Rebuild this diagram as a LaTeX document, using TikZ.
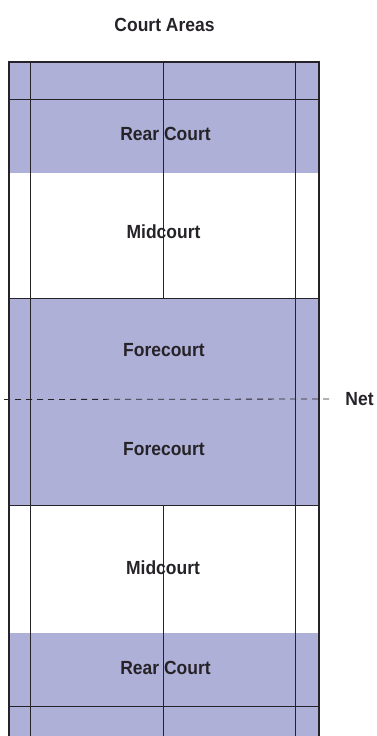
\documentclass[tikz,border=0pt]{standalone}
\usepackage{fontspec}
\usepackage{graphicx}
\setmainfont{Liberation Sans}
\newcommand{\narrowtxt}[1]{\scalebox{0.92}[1]{#1}}
\definecolor{courtfill}{RGB}{174,176,215}
\definecolor{courtline}{RGB}{38,35,40}
\tikzset{
  zone/.style={fill=courtfill,draw=none},
  thick line/.style={draw=courtline,line width=1.1pt},
  court line/.style={draw=courtline,line width=0.85pt},
  net line/.style={draw=courtline,line width=0.8pt,dash pattern=on 6pt off 5pt},
  lab/.style={font=\bfseries\fontsize{19}{21}\selectfont,text=courtline,inner sep=0pt,anchor=center}
}
\begin{document}
\begin{tikzpicture}[x=1pt,y=-1pt]
\useasboundingbox (0,0) rectangle (376,736);
% shaded zones
\fill[zone] (9,62) rectangle (319,172.5);
\fill[zone] (9,298.5) rectangle (319,505);
\fill[zone] (9,633) rectangle (319,736);
% court outline and lines
\draw[thick line] (9,736) -- (9,62) -- (319,62) -- (319,736);
\draw[court line] (30,62) -- (30,736);
\draw[court line] (295,62) -- (295,736);
\draw[court line] (163.5,62) -- (163.5,298.5);
\draw[court line] (163.5,505) -- (163.5,736);
\draw[court line] (9,99) -- (319,99);
\draw[court line] (9,298.5) -- (319,298.5);
\draw[court line] (9,505) -- (319,505);
\draw[court line] (9,706) -- (319,706);
% labels
\node[lab] (title) at (164.5,25) {\narrowtxt{Court Areas}};
\node[lab] (rear1) at (165.5,134) {\narrowtxt{Rear Court}};
\node[lab] (mid1) at (163.5,232) {\narrowtxt{Midcourt}};
\node[lab] (fore1) at (164,350) {\narrowtxt{Forecourt}};
\node[lab] (fore2) at (164,449) {\narrowtxt{Forecourt}};
\node[lab] (mid2) at (163,568) {\narrowtxt{Midcourt}};
\node[lab] (rear2) at (165.5,668) {\narrowtxt{Rear Court}};
\node[lab] (net) at (359.5,399) {\narrowtxt{Net}};
% net
\coordinate (netstart) at (4,399.5);
\draw[net line] (netstart) -- ([xshift=-11pt]net.west);
\end{tikzpicture}
\end{document}
